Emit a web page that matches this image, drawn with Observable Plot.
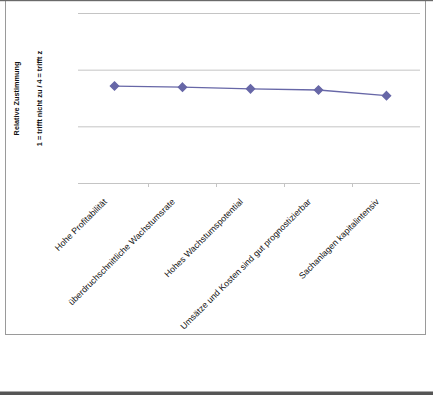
<!DOCTYPE html>
<html><head><meta charset="utf-8">
<script src="https://cdn.jsdelivr.net/npm/d3@7"></script>
<script src="https://cdn.jsdelivr.net/npm/@observablehq/plot@0.6"></script>
<style>
html,body{margin:0;padding:0;background:#fff;}
#chart{position:relative;width:433px;height:395px;}
</style>
</head><body><div id="chart"></div>
<script>
const categories = ["Hohe Profitabilität","überdruchschnittliche Wachstumsrate","Hohes Wachstumspotential","Umsätze und Kosten sind gut prognostizierbar","Sachanlagen kapitalintensiv"];
const values = [2.72, 2.70, 2.67, 2.65, 2.55];
const gridValues = [1, 2, 3, 4];
const titleLines = ["Relative Zustimmung", "1 = trifft nicht zu / 4 = trifft z"];

const data = categories.map((c, i) => ({i, c, v: values[i]}));
const boundaries = d3.range(1, categories.length).map(i => i - 0.5);

const plot = Plot.plot({
  width: 433, height: 395,
  marginLeft: 80, marginRight: 13, marginTop: 13, marginBottom: 212,
  style: {fontFamily: "'Liberation Sans', Arial, sans-serif", background: "transparent"},
  x: {domain: [-0.5, categories.length - 0.5]},
  y: {domain: [1, 4]},
  marks: [
    Plot.ruleY(gridValues, {stroke: "#c4c4c4", strokeWidth: 1, insetLeft: -2}),
    Plot.axisY({ticks: [], label: null}),
    Plot.axisX({ticks: boundaries, tickSize: 4, stroke: "#c4c4c4", tickFormat: () => "", label: null}),
    Plot.axisX({ticks: d3.range(categories.length), tickSize: 0, tickRotate: -45, tickFormat: i => categories[i],
      fontSize: 8.8, fill: "#111", dx: -9, dy: 5, label: null}),
    Plot.line(data, {x: "i", y: "v", stroke: "#6767a7", strokeWidth: 1.3}),
    Plot.dot(data, {x: "i", y: "v", symbol: "diamond2", r: 3.6, fill: "#6767a7", stroke: "#6767a7"}),
    Plot.text(titleLines, {text: d => d, frameAnchor: "left", textAnchor: "middle", rotate: -90, fontWeight: "bold", fontSize: 7.3, fill: "#111"})
  ]
});
document.getElementById("chart").appendChild(plot);

// per-line horizontal placement for the two title lines
d3.select(plot).selectAll("g[aria-label='text'] text").each(function(d, j) {
  const t = d3.select(this);
  const tr = t.attr("transform");
  t.attr("transform", tr.replace(/translate\(([-\d.]+),([-\d.]+)\)/, (m, x, y) => `translate(${[16, 39][j]},${y})`));
});

// chart area border and page separators (decoration)
const svg = d3.select(plot);
svg.append("rect").attr("x", 5.5).attr("y", -1).attr("width", 420).attr("height", 335.5)
  .attr("fill", "none").attr("stroke", "#9a9a9a").attr("stroke-width", 1);
svg.append("rect").attr("x", 0).attr("y", 0).attr("width", 433).attr("height", 1.2).attr("fill", "#6a6a6a");
svg.append("rect").attr("x", 0).attr("y", 391.5).attr("width", 433).attr("height", 3.5).attr("fill", "#555");
</script>
</body></html>
